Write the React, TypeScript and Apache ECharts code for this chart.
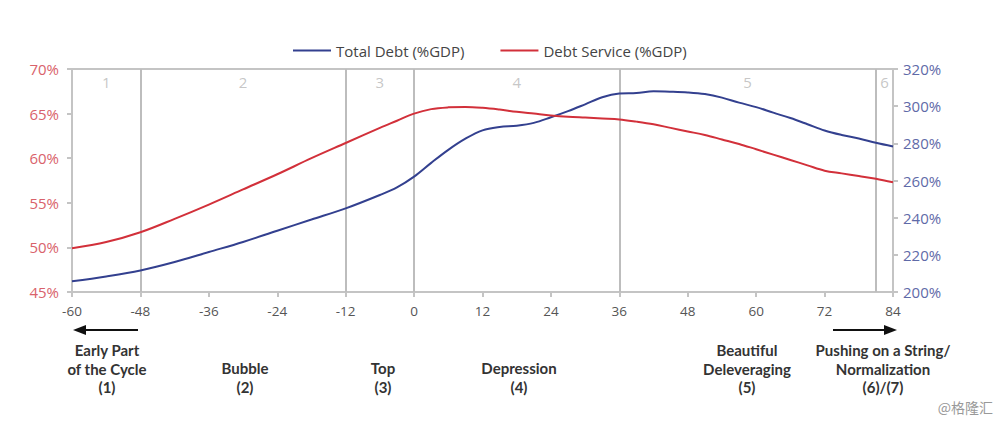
import React, { useEffect, useRef } from "react";
import * as echarts from "echarts";

const months = [-60, -54, -48, -42, -36, -30, -24, -18, -12, -6, -3, 0, 3, 6, 9, 12, 15, 18, 21, 24, 27, 30, 33, 36, 39, 42, 45, 48, 51, 54, 57, 60, 63, 66, 69, 72, 75, 78, 81, 84];
const totalDebt = [205.8, 208.4, 211.6, 216.1, 221.5, 226.9, 233.0, 239.0, 245.0, 252.2, 256.3, 262.1, 269.5, 276.5, 282.5, 287.0, 288.8, 289.5, 291.0, 294.0, 297.3, 301.0, 304.8, 306.8, 307.1, 308.0, 307.8, 307.4, 306.5, 304.6, 301.9, 299.5, 296.5, 293.6, 290.3, 286.9, 284.5, 282.6, 280.3, 278.3];
const debtService = [49.9, 50.6, 51.7, 53.2, 54.8, 56.5, 58.2, 60.0, 61.7, 63.4, 64.2, 65.0, 65.5, 65.7, 65.75, 65.65, 65.45, 65.2, 65.0, 64.8, 64.65, 64.55, 64.45, 64.35, 64.1, 63.8, 63.4, 63.0, 62.6, 62.1, 61.6, 61.0, 60.4, 59.8, 59.2, 58.6, 58.3, 58.0, 57.7, 57.3];
const phaseBoundaries = [-48, -12, 0, 36, 81];
const phaseNumbers = ["1", "2", "3", "4", "5", "6"];
const phaseNumberX = [-54, -30, -6, 18, 58.5, 82.5];
const phaseNames = [
  "Early Part\nof the Cycle\n(1)",
  "Bubble\n(2)",
  "Top\n(3)",
  "Depression\n(4)",
  "Beautiful\nDeleveraging\n(5)",
  "Pushing on a String/\nNormalization\n(6)/(7)",
];
const phaseNameX = [107, 245, 383, 519, 747, 883];

const FONT = "'Open Sans', 'Noto Sans', sans-serif";

export default function App() {
  const ref = useRef<HTMLDivElement>(null);
  useEffect(() => {
    if (!ref.current) return;
    const chart = echarts.init(ref.current, null, { renderer: "svg" });
    const grey = "#c4c4c4";
    const nameTexts = phaseNames.map((t, i) => {
      const lines = t.split("\n").length;
      return {
        type: "text",
        x: phaseNameX[i],
        y: lines === 3 ? 341 : 359,
        silent: true,
        style: {
          text: t,
          textAlign: "center",
          textVerticalAlign: "top",
          fill: "#333",
          font: "bold 15px Lato, sans-serif",
          lineHeight: 18.5,
        },
      };
    });
    chart.setOption({
      animation: false,
      backgroundColor: "#fff",
      textStyle: { fontFamily: FONT },
      legend: {
        top: 38,
        left: 288,
        itemWidth: 38,
        itemHeight: 2,
        itemGap: 36,
        icon: "rect",
        textStyle: { fontSize: 15, color: "#444", fontFamily: FONT },
        data: ["Total Debt (%GDP)", "Debt Service (%GDP)"],
      },
      grid: {
        left: 72,
        right: 107,
        top: 69,
        bottom: 129,
        show: true,
        borderColor: grey,
        borderWidth: 2,
      },
      xAxis: {
        type: "value",
        min: -60,
        max: 84,
        interval: 12,
        splitLine: { show: false },
        axisLine: { onZero: false, lineStyle: { color: grey, width: 2 } },
        axisTick: { show: true, length: 5, lineStyle: { color: grey, width: 2 } },
        axisLabel: { color: "#555", fontSize: 13.5, margin: 12, fontFamily: FONT },
      },
      yAxis: [
        {
          type: "value",
          min: 45,
          max: 70,
          interval: 5,
          position: "left",
          splitLine: { show: false },
          axisLine: { show: true, onZero: false, lineStyle: { color: grey, width: 2 } },
          axisTick: { show: true, length: 5, lineStyle: { color: grey, width: 2 } },
          axisLabel: { formatter: "{value}%", color: "#d9626b", fontSize: 15, margin: 13, fontFamily: FONT },
        },
        {
          type: "value",
          min: 200,
          max: 320,
          interval: 20,
          position: "right",
          splitLine: { show: false },
          axisLine: { show: true, onZero: false, lineStyle: { color: grey, width: 2 } },
          axisTick: { show: true, length: 5, lineStyle: { color: grey, width: 2 } },
          axisLabel: { formatter: "{value}%", color: "#5f6aa8", fontSize: 15, margin: 10, fontFamily: FONT },
        },
      ],
      series: [
        {
          name: "Total Debt (%GDP)",
          type: "line",
          yAxisIndex: 1,
          data: months.map((m, i) => [m, totalDebt[i]]),
          smooth: 0.35,
          showSymbol: false,
          symbol: "none",
          itemStyle: { color: "#33408f" },
          lineStyle: { color: "#33408f", width: 2 },
          z: 3,
          markLine: {
            silent: true,
            symbol: "none",
            label: { show: false },
            lineStyle: { color: "#bdbdbd", width: 2, type: "solid" },
            data: phaseBoundaries.map((x) => ({ xAxis: x })),
            z: 1,
          },
        },
        {
          name: "Debt Service (%GDP)",
          type: "line",
          yAxisIndex: 0,
          data: months.map((m, i) => [m, debtService[i]]),
          smooth: 0.35,
          showSymbol: false,
          symbol: "none",
          itemStyle: { color: "#d2303a" },
          lineStyle: { color: "#d2303a", width: 2 },
          z: 3,
        },
        {
          name: "phases",
          type: "scatter",
          yAxisIndex: 0,
          silent: true,
          symbolSize: 0,
          data: phaseNumberX.map((x, i) => ({ value: [x, 68.5], name: phaseNumbers[i] })),
          label: {
            show: true,
            position: "inside",
            formatter: (p: any) => p.name,
            color: "#b8b8b8",
            fontSize: 15,
            fontFamily: FONT,
          },
        },
      ],
      graphic: [
        ...nameTexts,
        { type: "line", silent: true, shape: { x1: 138, y1: 330, x2: 84, y2: 330 }, style: { stroke: "#111", lineWidth: 2 } },
        { type: "polygon", silent: true, shape: { points: [[73, 330], [86, 325], [86, 335]] }, style: { fill: "#111" } },
        { type: "line", silent: true, shape: { x1: 833, y1: 330, x2: 886, y2: 330 }, style: { stroke: "#111", lineWidth: 2 } },
        { type: "polygon", silent: true, shape: { points: [[897, 330], [884, 325], [884, 335]] }, style: { fill: "#111" } },
        {
          type: "text",
          x: 993,
          y: 407,
          silent: true,
          style: {
            text: "@格隆汇",
            textAlign: "right",
            textVerticalAlign: "middle",
            fill: "#999",
            font: "14px 'Noto Sans CJK SC', sans-serif",
          },
        },
      ],
    });
    return () => chart.dispose();
  }, []);
  return <div ref={ref} style={{ position: "absolute", left: 0, top: 0, width: 1000, height: 421 }} />;
}
